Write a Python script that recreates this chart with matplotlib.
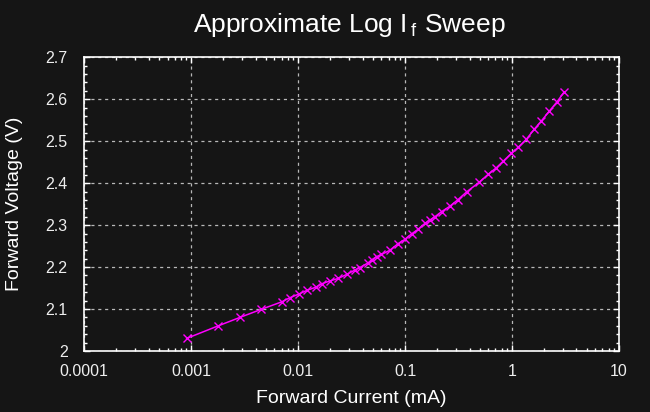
import matplotlib
matplotlib.use("Agg")
import matplotlib.pyplot as plt
from matplotlib.ticker import LogLocator, FixedLocator, MultipleLocator, NullFormatter

# Data (current in mA, voltage in V)
current_ma = [0.000906, 0.00179, 0.00285, 0.00448, 0.0070, 0.00836, 0.0102, 0.0122,
              0.0146, 0.01656, 0.0198, 0.0237, 0.0287, 0.0339, 0.0378, 0.0451,
              0.0485, 0.0541, 0.0601, 0.0719, 0.0861, 0.0993, 0.1148, 0.1322,
              0.1528, 0.170, 0.190, 0.219, 0.262, 0.313, 0.375, 0.492, 0.597,
              0.715, 0.824, 0.986, 1.148, 1.364, 1.606, 1.875, 2.218, 2.636, 3.062]
voltage_v = [2.030, 2.060, 2.080, 2.099, 2.117, 2.127, 2.136, 2.145,
             2.152, 2.160, 2.167, 2.173, 2.183, 2.193, 2.199, 2.210,
             2.217, 2.225, 2.230, 2.240, 2.256, 2.266, 2.279, 2.290,
             2.304, 2.312, 2.320, 2.332, 2.345, 2.361, 2.379, 2.402, 2.421,
             2.437, 2.452, 2.471, 2.486, 2.505, 2.528, 2.548, 2.571, 2.594, 2.617]
x_ticks = [0.0001, 0.001, 0.01, 0.1, 1, 10]
x_tick_labels = ["0.0001", "0.001", "0.01", "0.1", "1", "10"]
y_ticks = [2, 2.1, 2.2, 2.3, 2.4, 2.5, 2.6, 2.7]
y_tick_labels = ["2", "2.1", "2.2", "2.3", "2.4", "2.5", "2.6", "2.7"]

BG = "#151515"
FG = "#ffffff"

plt.rcParams["font.family"] = ["Liberation Sans", "DejaVu Sans"]
plt.rcParams["mathtext.fontset"] = "custom"
plt.rcParams["mathtext.rm"] = "Liberation Sans"
plt.rcParams["mathtext.it"] = "Liberation Sans"

fig = plt.figure(figsize=(6.5, 4.12), dpi=100, facecolor=BG)
ax = fig.add_axes([84.3 / 650, 61 / 412, (619 - 84.3) / 650, (351 - 57.3) / 412])
ax.set_facecolor(BG)

ax.plot(current_ma, voltage_v, color="#ff00ff", lw=1.1, marker="x",
        markersize=6, markeredgewidth=1.0, zorder=3)

ax.set_xscale("log")
ax.set_xlim(0.0001, 10)
ax.set_ylim(2, 2.7)

ax.xaxis.set_major_locator(FixedLocator(x_ticks))
ax.set_xticklabels(x_tick_labels)
ax.xaxis.set_minor_locator(LogLocator(base=10, subs=range(2, 10), numticks=20))
ax.xaxis.set_minor_formatter(NullFormatter())
ax.yaxis.set_major_locator(FixedLocator(y_ticks))
ax.set_yticklabels(y_tick_labels)
ax.yaxis.set_minor_locator(MultipleLocator(0.02))

for s in ax.spines.values():
    s.set_color(FG)
    s.set_linewidth(1.2)

ax.tick_params(which="both", direction="in", top=True, right=True, colors=FG,
               labelcolor="#eeeeee", labelsize=11.5)
ax.tick_params(which="major", length=4.5, width=1.0)
ax.tick_params(which="minor", length=2.5, width=1.0)
ax.tick_params(axis="x", which="major", pad=9)
ax.tick_params(axis="y", which="major", pad=12)

ax.grid(True, which="major", color="#b8b8b8", lw=0.9, linestyle=(0, (2.5, 3.0)))

ax.set_xlabel("Forward Current (mA)", color=FG, fontsize=14, labelpad=8)
ax.set_ylabel("Forward Voltage (V)", color=FG, fontsize=14, labelpad=16)
fig.text(0.537, 0.922, r"Approximate Log I$\,_{\mathrm{f}}$ Sweep", color=FG,
         fontsize=19, ha="center", va="baseline")

fig.savefig("out.png", dpi=100, facecolor=BG)
